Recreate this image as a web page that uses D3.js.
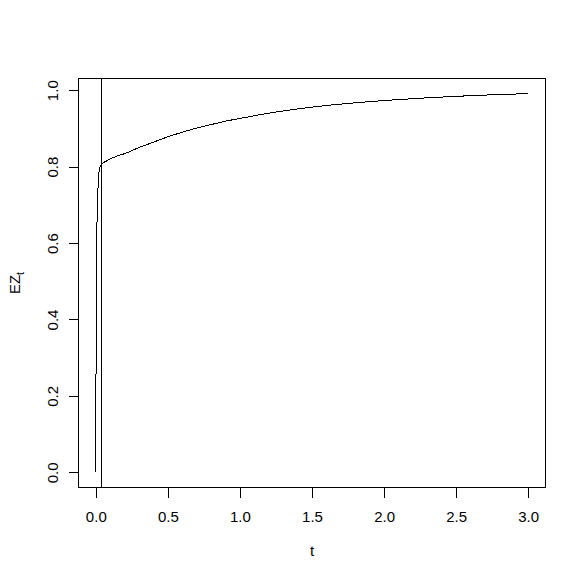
<!DOCTYPE html>
<html>
<head>
<meta charset="utf-8">
<script src="https://cdn.jsdelivr.net/npm/d3@7"></script>
<style>
  body { margin: 0; background: #fff; }
  text { font-family: "Liberation Sans", Arial, sans-serif; font-size: 15px; fill: #000; }
</style>
</head>
<body>
<script>
// E Z_t against t
var tValues = [0, 0.001, 0.003, 0.006, 0.012, 0.02, 0.03, 0.042, 0.07, 0.1, 0.15, 0.2, 0.3, 0.4, 0.5,
  0.6, 0.7, 0.8, 0.9, 1.0, 1.2, 1.4, 1.6, 1.8, 2.0, 2.25, 2.5, 2.75, 3.0]
var ezValues = [0, 0.2, 0.39, 0.6, 0.7, 0.78, 0.8, 0.807, 0.814, 0.82, 0.828, 0.834, 0.85, 0.864, 0.878,
  0.89, 0.901, 0.91, 0.919, 0.926, 0.94, 0.951, 0.96, 0.967, 0.973, 0.979, 0.984, 0.988, 0.991]
var vLine = 0.042

var xTicks = [0, 0.5, 1, 1.5, 2, 2.5, 3]
var yTicks = [0, 0.2, 0.4, 0.6, 0.8, 1.0]

var w = 586
var h = 585

var box = {
  left: 78.5,
  right: 545.5,
  top: 78.5,
  bottom: 487.5
}

var svg = d3.select('body')
            .append('svg')
            .attr('width', w)
            .attr('height', h)

// R style 4% padding on both scales
var xExt = d3.extent(tValues)
var yExt = d3.extent(ezValues)
var xPad = (xExt[1] - xExt[0]) * 0.04
var yPad = (yExt[1] - yExt[0]) * 0.04

var x = d3.scaleLinear()
        .domain([xExt[0] - xPad, xExt[1] + xPad])
        .range([box.left, box.right])

var y = d3.scaleLinear()
        .domain([yExt[0] - yPad, yExt[1] + yPad])
        .range([box.bottom, box.top])

var fmt = d3.format('.1f')

var xAxis = d3.axisBottom(x)
              .tickValues(xTicks)
              .tickFormat(fmt)
              .tickSize(10)
              .tickPadding(14)

var yAxis = d3.axisLeft(y)
              .tickValues(yTicks)
              .tickFormat(fmt)
              .tickSize(10)

var gx = svg.append('g')
    .attr('transform', 'translate(0,' + box.bottom + ')')
    .call(xAxis)
gx.select('.domain').remove()
gx.selectAll('.tick line').attr('stroke', '#000').attr('shape-rendering', 'crispEdges')
gx.selectAll('.tick text')
    .attr('font-size', null)
    .attr('font-family', null)
    .style('font-size', '15px')

var gy = svg.append('g')
    .attr('transform', 'translate(' + box.left + ',0)')
    .call(yAxis)
gy.select('.domain').remove()
gy.selectAll('.tick line').attr('stroke', '#000').attr('shape-rendering', 'crispEdges')
// rotate tick labels like R's las = 0
gy.selectAll('.tick text')
    .attr('x', null)
    .attr('dy', null)
    .attr('text-anchor', 'middle')
    .attr('transform', 'translate(-21,0) rotate(-90)')
    .style('font-size', '15px')
gx.attr('font-family', null)
gy.attr('font-family', null)

// plot box
svg.append('rect')
    .attr('x', box.left)
    .attr('y', box.top)
    .attr('width', box.right - box.left)
    .attr('height', box.bottom - box.top)
    .attr('fill', 'none')
    .attr('stroke', '#000')
    .attr('shape-rendering', 'crispEdges')

// vertical reference line
svg.append('line')
    .attr('x1', x(vLine))
    .attr('x2', x(vLine))
    .attr('y1', box.top)
    .attr('y2', box.bottom)
    .attr('stroke', '#000')
    .attr('shape-rendering', 'crispEdges')

var line = d3.line()
            .x(function (d) { return x(d[0]) })
            .y(function (d) { return y(d[1]) })
            .curve(d3.curveMonotoneX)

svg.append('path')
    .datum(tValues.map(function (t, i) { return [t, ezValues[i]] }))
    .attr('d', line)
    .attr('fill', 'none')
    .attr('stroke', '#000')
    .attr('stroke-width', 1)
    .attr('shape-rendering', 'crispEdges')

// axis titles
svg.append('text')
    .attr('x', (box.left + box.right) / 2)
    .attr('y', 556)
    .attr('text-anchor', 'middle')
    .text('t')

var ylab = svg.append('text')
    .attr('text-anchor', 'middle')
    .attr('transform', 'translate(20,' + (box.top + box.bottom) / 2 + ') rotate(-90)')
ylab.append('tspan').text('EZ')
ylab.append('tspan')
    .attr('dy', 4)
    .style('font-size', '11px')
    .text('t')
</script>
</body>
</html>
